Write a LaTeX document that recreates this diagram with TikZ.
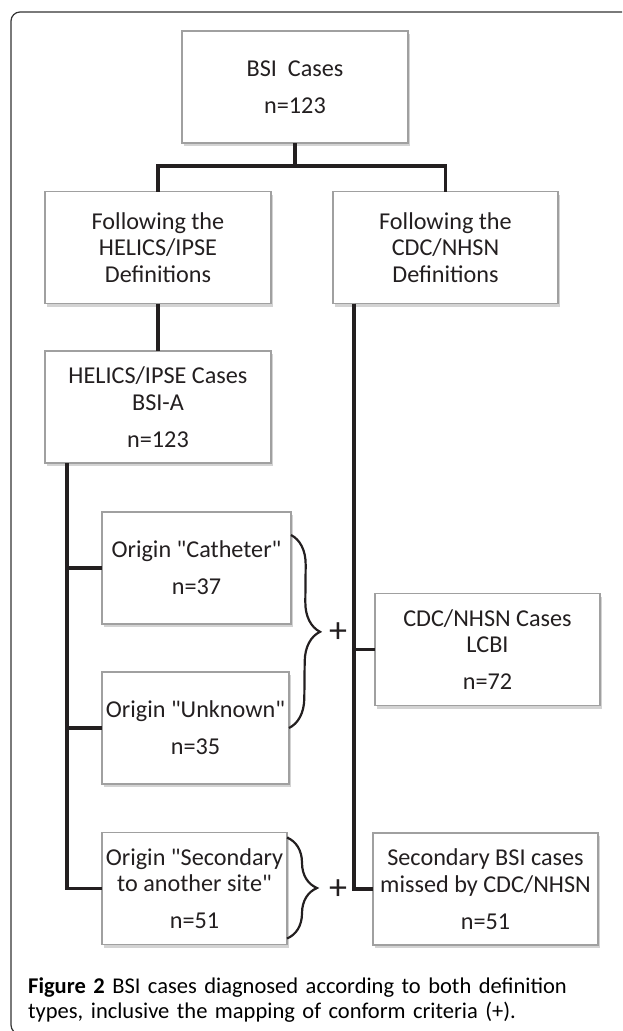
\documentclass[tikz,border=0pt]{standalone}
\usepackage{fontspec}
\setmainfont{Carlito}
\usetikzlibrary{shadows,decorations.pathreplacing}
\definecolor{boxline}{RGB}{160,160,160}
\definecolor{ink}{RGB}{35,31,32}

\begin{document}
\begin{tikzpicture}
  [x=1pt,y=-1pt,
   casebox/.style={draw=boxline,line width=1.3pt,fill=white,inner sep=0pt,outer sep=0pt,
     minimum height=112pt,align=center,text=ink,
     font=\fontsize{24.2}{26.7}\selectfont,
     drop shadow={shadow xshift=2pt,shadow yshift=-3pt,opacity=.35}},
   link/.style={line width=3.4pt,ink},
   curly/.style={decorate,decoration={brace,amplitude=30pt},line width=2.2pt,ink},
   plus/.style={inner sep=0pt,text=ink,font=\fontsize{36}{36}\selectfont}]
  \useasboundingbox (0,0) rectangle (622,1031);
  \begin{scope}
    \clip (0,0) rectangle (622,1031);
    \draw[line width=1.2pt,black!80,rounded corners=9pt] (640,12) -- (11,12) -- (11,1034) -- (640,1034);
  \end{scope}

  \node[casebox,minimum width=226pt] (bsi)    at (295,87)    {BSI\ \ Cases\\[10pt]n=123};
  \node[casebox,minimum width=226pt] (hdef)   at (158,247.5) {Following the\\HELICS/IPSE\\Definitions};
  \node[casebox,minimum width=225pt] (cdef)   at (445.5,247.5) {Following the\\CDC/NHSN\\Definitions};
  \node[casebox,minimum width=226pt] (hcases) at (158,407)   {HELICS/IPSE Cases\\BSI-A\\[10pt]n=123};
  \node[casebox,minimum width=189pt] (cath)   at (196.5,568) {Origin \textquotedbl Catheter\textquotedbl\\[10pt]n=37};
  \node[casebox,minimum width=187pt] (unkn)   at (195.5,728) {Origin \textquotedbl Unknown\textquotedbl\\[10pt]n=35};
  \node[casebox,minimum width=185pt] (sec)    at (194.5,888.5) {Origin \textquotedbl Secondary\\to another site\textquotedbl\\[10pt]n=51};
  \node[casebox,minimum width=225pt] (ccases) at (487.5,649.5) {CDC/NHSN Cases\\LCBI\\[10pt]n=72};
  \node[casebox,minimum width=225pt] (missed) at (485.5,889)  {Secondary BSI cases\\missed by CDC/NHSN\\[10pt]n=51};

  \coordinate (split) at (295,166);
  \coordinate (ltop) at ([xshift=22pt]hcases.south west);
  \coordinate (rtop) at ([xshift=21pt]cdef.south west);

  \draw[link] (bsi) -- (split);
  \foreach \to in {hdef,cdef}
    \draw[link] (split) -| (\to);
  \draw[link] (hdef) -- (hcases);
  \foreach \to in {cath,unkn,sec}
    \draw[link] (ltop) |- (\to);
  \foreach \to in {ccases,missed}
    \draw[link] (rtop) |- (\to);

  % conform criteria
  \draw[curly] ([yshift=-23pt]cath.north east) -- (unkn.east);
  \draw[curly] ([yshift=-5pt]sec.north east) -- ([yshift=6pt]sec.south east);
  \node[plus] (plus1) at (338,633) {+};
  \node[plus] (plus2) at (338,890) {+};

  \node[anchor=base west,inner sep=0pt,text width=580pt,align=left,
    font=\fontsize{22.5}{25}\selectfont] (caption) at (28,993)
    {\textbf{Figure 2} BSI cases diagnosed according to both definition\\types, inclusive the mapping of conform criteria (+).};
\end{tikzpicture}
\end{document}
